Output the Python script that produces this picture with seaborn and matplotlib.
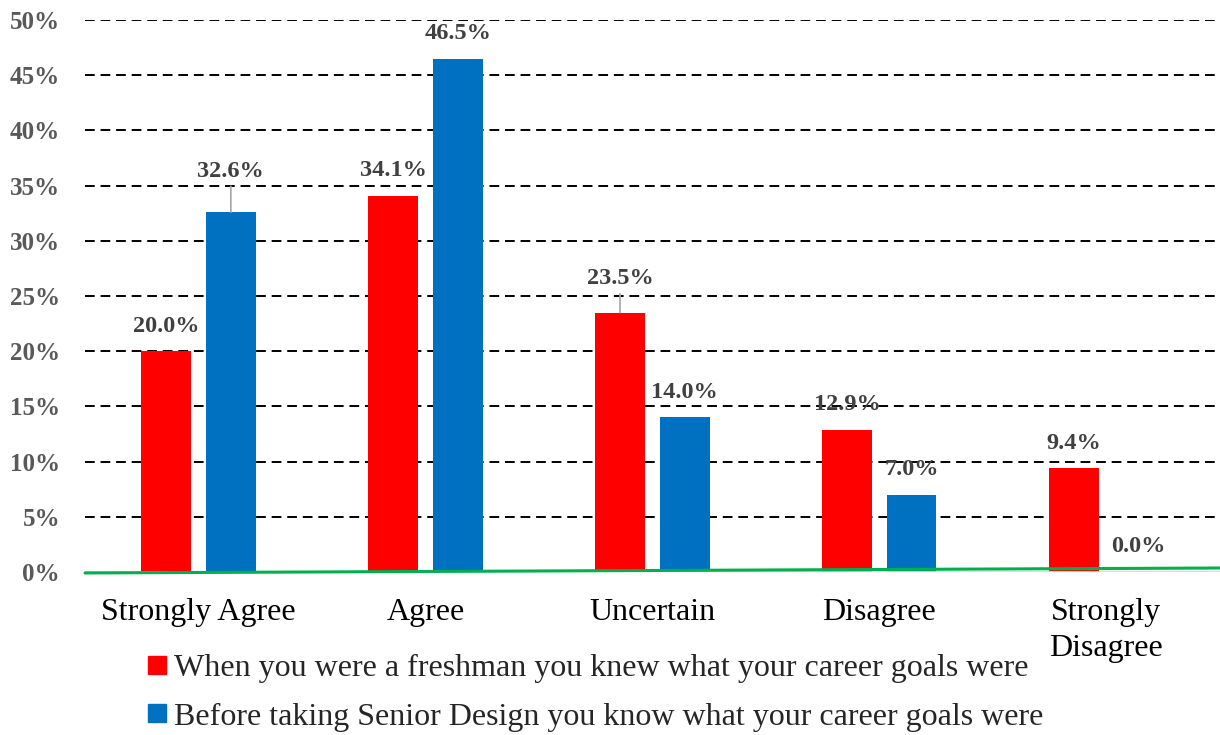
import matplotlib
matplotlib.use("Agg")
import matplotlib.pyplot as plt
import seaborn as sns
import pandas as pd
from matplotlib.lines import Line2D
from matplotlib.ticker import FuncFormatter

categories = ["Strongly Agree", "Agree", "Uncertain", "Disagree", "Strongly\nDisagree"]
series_names = ["When you were a freshman you knew what your career goals were",
                "Before taking Senior Design you know what your career goals were"]
freshman = [20.0, 34.1, 23.5, 12.9, 9.4]
senior = [32.6, 46.5, 14.0, 7.0, 0.0]
yticks = [0, 5, 10, 15, 20, 25, 30, 35, 40, 45, 50]

colors = ["#FF0000", "#0070C0"]

df = pd.DataFrame({
    "category": categories * 2,
    "series": [series_names[0]] * 5 + [series_names[1]] * 5,
    "value": freshman + senior,
})

sns.set_theme(style="white")
plt.rcParams["font.family"] = ["Liberation Serif", "DejaVu Serif"]

fig = plt.figure(figsize=(12.2, 7.35), dpi=100)
ax = fig.add_axes([0.0697, 0.2218, 0.930, 0.751])

sns.barplot(data=df, x="category", y="value", hue="series", order=categories,
            hue_order=series_names, palette=colors, width=0.57, gap=0.23,
            ax=ax, legend=False, edgecolor="none", saturation=1)

ax.set_ylim(0, 50)
ax.set_xlim(-0.5, 4.5)
ax.set_yticks(yticks)
ax.yaxis.set_major_formatter(FuncFormatter(lambda v, p: f"{int(v)}%"))
for y in yticks[1:]:
    ax.axhline(y, color="black", linestyle=(0, (5, 3)), linewidth=1.4, zorder=0.5)
for s in ax.spines.values():
    s.set_visible(False)
ax.axhline(0, color="#d9d9d9", linewidth=2, zorder=1)
ax.plot([-0.5, 4.5], [-0.09, 0.36], color="#00b050", linewidth=2.2, zorder=4, clip_on=False)

ax.set_xlabel("")
ax.set_ylabel("")
ax.tick_params(axis="y", length=0, pad=18, labelsize=18, labelcolor="#595959")
for t in ax.get_yticklabels():
    t.set_fontweight("bold")
ax.tick_params(axis="x", length=0, pad=19, labelsize=23, labelcolor="black")
for t in ax.get_xticklabels():
    t.set_linespacing(1.3)

# data labels
extra = {(1, 0): 16, (0, 2): 9}
leader = {(1, 0), (0, 2)}
for si, vals in enumerate([freshman, senior]):
    cont = ax.containers[si]
    for ci, (bar, v) in enumerate(zip(cont, vals)):
        x = bar.get_x() + bar.get_width() / 2
        off = 25 + extra.get((si, ci), 0)
        arrow = None
        if (si, ci) in leader:
            arrow = dict(arrowstyle="-", color="#a6a6a6", lw=1.2, shrinkA=1, shrinkB=0)
        ax.annotate(f"{v:.1f}%", xy=(x, v), xytext=(0, off), textcoords="offset pixels",
                    ha="center", va="center", fontsize=17.5, fontweight="bold",
                    color="#404040", arrowprops=arrow, zorder=5)

handles = [Line2D([0], [0], marker="s", linestyle="none", markersize=13,
                  markerfacecolor=c, markeredgecolor=c) for c in colors]
fig.legend(handles, series_names, loc="upper left", bbox_to_anchor=(0.105, 0.128),
           frameon=False, fontsize=23, handletextpad=0.05, labelspacing=0.6,
           borderaxespad=0, handlelength=1.0)

fig.savefig("out.png", dpi=100)
